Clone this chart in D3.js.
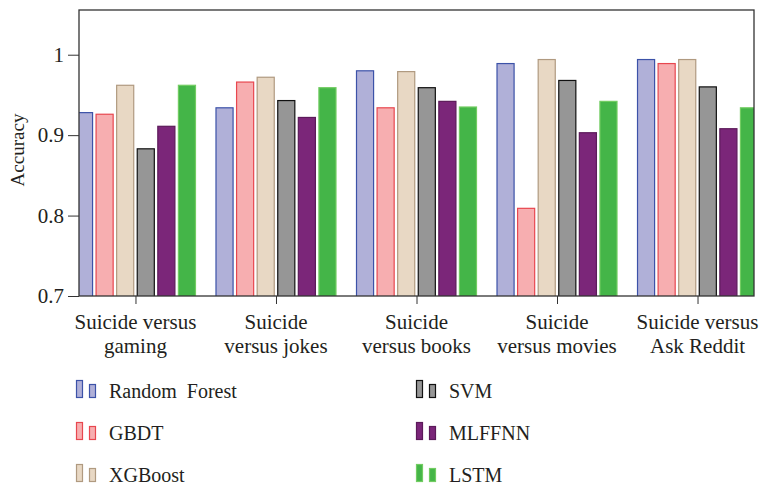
<!DOCTYPE html>
<html>
<head>
<meta charset="utf-8">
<script src="https://cdn.jsdelivr.net/npm/d3@7"></script>
<style>
  body { margin: 0; background: #fff; }
  svg text { font-family: "Liberation Serif", "Times New Roman", serif; fill: #231f20; }
</style>
</head>
<body>
<script>
'use strict';

// categories (x groups), two lines each
const categories = ["gaming", "jokes", "books", "movies", "askreddit"];
const categoryLabels = [
  ["Suicide versus", "gaming"],
  ["Suicide", "versus jokes"],
  ["Suicide", "versus books"],
  ["Suicide", "versus movies"],
  ["Suicide versus", "Ask Reddit"]
];

// models (series)
const models = ["Random Forest", "GBDT", "XGBoost", "SVM", "MLFFNN", "LSTM"];
const fills = ["#b0b0d8", "#f7aeb0", "#e8d8c4", "#969696", "#7b2679", "#44b548"];
const strokes = ["#3c52a8", "#e8474f", "#b09a80", "#111111", "#5c1a5a", "#72cc62"];

// accuracy per model, one value per category
const randomForest = [0.928, 0.934, 0.980, 0.989, 0.994];
const gbdt = [0.926, 0.966, 0.934, 0.809, 0.989];
const xgboost = [0.962, 0.972, 0.979, 0.994, 0.994];
const svm = [0.883, 0.943, 0.959, 0.968, 0.960];
const mlffnn = [0.911, 0.922, 0.942, 0.903, 0.908];
const lstm = [0.962, 0.959, 0.935, 0.942, 0.934];

const yTicks = [0.7, 0.8, 0.9, 1];

const seriesValues = [randomForest, gbdt, xgboost, svm, mlffnn, lstm];

(function () {
  const width = 759, height = 485;
  const margin = { left: 79, right: 5, top: 10, bottom: 189 };
  const plotW = width - margin.left - margin.right;
  const plotH = height - margin.top - margin.bottom;

  const svg = d3.select('body')
    .append('svg')
    .attr('width', width)
    .attr('height', height);

  // group centers
  const x0 = d3.scalePoint()
    .domain(categories)
    .range([margin.left, margin.left + plotW])
    .padding(0.402);

  // bars inside a group
  const x1 = d3.scaleBand()
    .domain(models)
    .range([-60, 60])
    .paddingInner(0.17)
    .paddingOuter(0);

  const y = d3.scaleLinear()
    .domain([0.7, 1.0556])
    .range([margin.top + plotH, margin.top]);

  // clip bars to plot area
  svg.append('clipPath')
    .attr('id', 'plotClip')
    .append('rect')
    .attr('x', margin.left)
    .attr('y', margin.top)
    .attr('width', plotW)
    .attr('height', plotH);

  // build rows for bars
  let rows = [];
  categories.forEach((c, ci) => {
    models.forEach((m, mi) => {
      rows.push({ cat: c, model: m, mi: mi, value: seriesValues[mi][ci] });
    });
  });

  svg.append('g')
    .attr('clip-path', 'url(#plotClip)')
    .selectAll('rect')
    .data(rows)
    .enter()
    .append('rect')
    .attr('x', (d) => x0(d.cat) + x1(d.model))
    .attr('y', (d) => y(d.value))
    .attr('width', x1.bandwidth())
    .attr('height', (d) => y(0.7) - y(d.value) + 2)
    .attr('fill', (d) => fills[d.mi])
    .attr('stroke', (d) => strokes[d.mi])
    .attr('stroke-width', 1.2);

  // left axis
  let yAxis = d3.axisLeft(y)
    .tickValues(yTicks)
    .tickFormat((d) => d === 1 ? "1" : d3.format(".1f")(d))
    .tickSize(11)
    .tickPadding(4);
  let gy = svg.append('g')
    .attr('transform', `translate(${margin.left}, 0)`)
    .call(yAxis);
  gy.select('.domain').remove();
  gy.selectAll('line').attr('stroke', '#333');
  gy.selectAll('text')
    .style('font-size', '21px')
    .style('font-family', '"Liberation Serif", serif')
    .attr('fill', '#231f20');

  // bottom axis ticks
  let xAxis = d3.axisBottom(x0)
    .tickSize(8)
    .tickFormat("");
  let gx = svg.append('g')
    .attr('transform', `translate(0, ${margin.top + plotH})`)
    .call(xAxis);
  gx.select('.domain').remove();
  gx.selectAll('line').attr('stroke', '#333');

  // frame
  svg.append('rect')
    .attr('x', margin.left)
    .attr('y', margin.top)
    .attr('width', plotW)
    .attr('height', plotH)
    .attr('fill', 'none')
    .attr('stroke', '#333')
    .attr('stroke-width', 1.3);

  // category labels
  let labels = svg.append('g')
    .selectAll('text')
    .data(categories)
    .enter()
    .append('text')
    .attr('text-anchor', 'middle')
    .style('font-size', '21px');
  labels.each(function (d, i) {
    let t = d3.select(this);
    categoryLabels[i].forEach((line, li) => {
      t.append('tspan')
        .attr('x', x0(d))
        .attr('y', 329 + li * 24)
        .text(line);
    });
  });

  // y label
  svg.append('text')
    .attr('transform', `translate(24, ${margin.top + plotH / 2 - 3})rotate(-90)`)
    .attr('text-anchor', 'middle')
    .style('font-size', '19px')
    .text('Accuracy');

  // legend
  const legendX = [76, 416];
  const legendY = [398, 440, 482];
  let legend = svg.append('g')
    .selectAll('g')
    .data(models)
    .enter()
    .append('g')
    .attr('transform', (d, i) => `translate(${legendX[Math.floor(i / 3)]}, ${legendY[i % 3]})`);

  legend.append('rect')
    .attr('x', 0.5)
    .attr('y', -17.5)
    .attr('width', 6)
    .attr('height', 17)
    .attr('fill', (d, i) => fills[i])
    .attr('stroke', (d, i) => strokes[i])
    .attr('stroke-width', 1.2);

  legend.append('rect')
    .attr('x', 13.5)
    .attr('y', -13.5)
    .attr('width', 6)
    .attr('height', 13)
    .attr('fill', (d, i) => fills[i])
    .attr('stroke', (d, i) => strokes[i])
    .attr('stroke-width', 1.2);

  legend.append('text')
    .attr('x', 33)
    .attr('y', 0)
    .style('font-size', '20px')
    .style('word-spacing', '5px')
    .text((d) => d);
})();
</script>
</body>
</html>
